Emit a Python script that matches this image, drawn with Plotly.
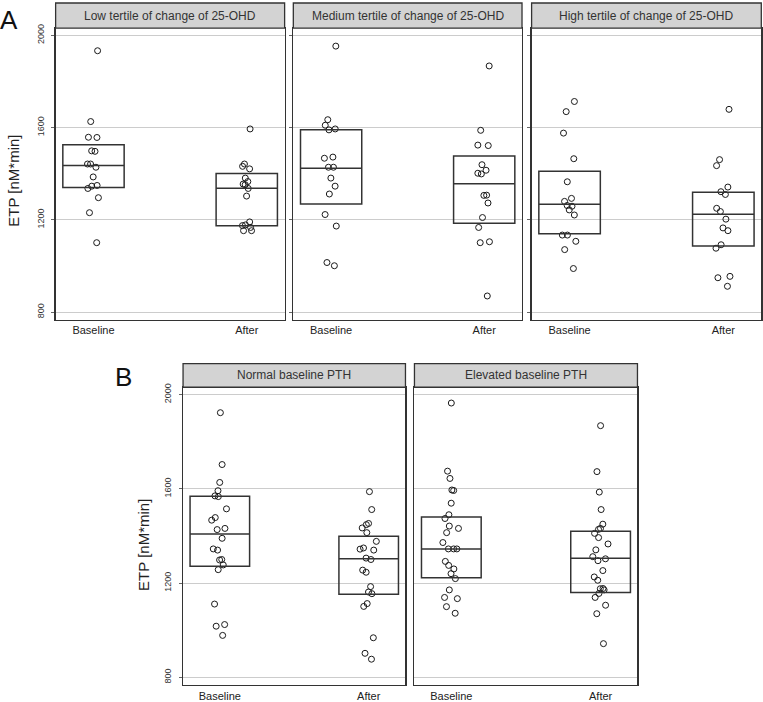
import plotly.graph_objects as go

# ---------------- data (ETP, nM*min) ----------------
categories = ["Baseline", "After"]
tick_values_y = [800, 1200, 1600, 2000]

facet_titles_a = ["Low tertile of change of 25-OHD",
                  "Medium tertile of change of 25-OHD",
                  "High tertile of change of 25-OHD"]
facet_titles_b = ["Normal baseline PTH", "Elevated baseline PTH"]

low_baseline = [1933, 1626, 1558, 1557, 1499, 1497, 1442, 1442, 1428, 1386, 1349, 1346, 1336, 1296, 1231, 1101]
low_after = [1594, 1442, 1432, 1421, 1381, 1366, 1355, 1352, 1336, 1303, 1191, 1178, 1175, 1167, 1153, 1153]
med_baseline = [1953, 1634, 1610, 1594, 1590, 1472, 1467, 1428, 1428, 1381, 1346, 1312, 1223, 1173, 1015, 1001]
med_after = [1867, 1588, 1524, 1522, 1439, 1415, 1402, 1399, 1307, 1306, 1273, 1210, 1167, 1105, 1101, 870]
high_baseline = [1713, 1669, 1576, 1465, 1365, 1293, 1280, 1262, 1259, 1243, 1221, 1134, 1134, 1107, 1071, 989]
high_after = [1679, 1461, 1435, 1342, 1322, 1310, 1250, 1236, 1203, 1165, 1153, 1092, 1077, 955, 949, 912]
normal_baseline = [1923, 1703, 1627, 1592, 1570, 1567, 1515, 1478, 1467, 1432, 1427, 1390, 1345, 1340,
                   1300, 1298, 1277, 1257, 1111, 1024, 1017, 978]
normal_after = [1588, 1512, 1453, 1448, 1434, 1414, 1377, 1349, 1344, 1340, 1306, 1300, 1255, 1246,
                1185, 1162, 1155, 1113, 1101, 968, 902, 877]
elevated_baseline = [1964, 1675, 1644, 1595, 1593, 1539, 1490, 1474, 1442, 1432, 1414, 1372, 1345, 1345,
                     1345, 1292, 1275, 1260, 1240, 1219, 1171, 1139, 1134, 1100, 1072]
elevated_after = [1868, 1673, 1586, 1512, 1450, 1432, 1428, 1411, 1393, 1366, 1341, 1312, 1303, 1295,
                  1253, 1226, 1212, 1177, 1176, 1171, 1156, 1139, 1106, 1070, 943]

# box statistics (lower edge, middle line, upper edge) per group
box_lower = [1340, 1174, 1269, 1185, 1140, 1087, 1271, 1153, 1223, 1160]
box_middle = [1436, 1337, 1424, 1356, 1268, 1224, 1408, 1303, 1345, 1305]
box_upper = [1525, 1401, 1590, 1477, 1411, 1320, 1568, 1399, 1480, 1420]

groups = [
    (low_baseline, low_after),
    (med_baseline, med_after),
    (high_baseline, high_after),
    (normal_baseline, normal_after),
    (elevated_baseline, elevated_after),
]

# ---------------- layout geometry (pixels of a 763 x 702 page) ----------------
W, H = 763, 702
FONT = "Liberation Sans, Arial, Helvetica, sans-serif"
INK = "#333333"

facet_x_px = [(55.7, 285.0), (293.7, 522.7), (532.3, 762.3), (183.3, 406.0), (415.0, 638.3)]
panel_y_px = {"A": (24.3, 318.0), "B": (386.0, 686.0)}
strip_y_px = {"A": (-1.0, 24.3), "B": (362.3, 386.0)}
facet_panel = ["A", "A", "A", "B", "B"]
facet_titles = facet_titles_a + facet_titles_b

def px_x(v):
    return v / W

def px_y(v):
    return 1 - v / H

fig = go.Figure()
layout = dict(
    width=W, height=H, autosize=False,
    margin=dict(l=0, r=0, t=0, b=0),
    paper_bgcolor="white", plot_bgcolor="white",
    showlegend=False, boxmode="overlay",
    font=dict(family=FONT, color=INK),
)
shapes, annotations = [], []

for i, (base, after) in enumerate(groups):
    n = i + 1
    xa = "x" if n == 1 else f"x{n}"
    ya = "y" if n == 1 else f"y{n}"
    panel = facet_panel[i]
    first_in_panel = i in (0, 3)

    # points (library jitter)
    for k, vals in enumerate((base, after)):
        fig.add_trace(go.Box(
            y=vals, x0=k, width=0.4, xaxis=xa, yaxis=ya,
            boxpoints="all", jitter=0.3, pointpos=0,
            fillcolor="rgba(0,0,0,0)", line=dict(width=0, color="rgba(0,0,0,0)"),
            marker=dict(symbol="circle-open", size=6, color="#1a1a1a", line=dict(width=1)),
            hoverinfo="skip", showlegend=False,
        ))
    # boxes
    gi = 2 * i
    fig.add_trace(go.Box(
        x=[0, 1],
        q1=[box_lower[gi], box_lower[gi + 1]],
        median=[box_middle[gi], box_middle[gi + 1]],
        q3=[box_upper[gi], box_upper[gi + 1]],
        lowerfence=[box_lower[gi], box_lower[gi + 1]],
        upperfence=[box_upper[gi], box_upper[gi + 1]],
        width=0.4, whiskerwidth=0, boxpoints=False,
        fillcolor="rgba(0,0,0,0)", line=dict(color=INK, width=1.5),
        xaxis=xa, yaxis=ya, hoverinfo="skip", showlegend=False,
    ))

    x0p, x1p = facet_x_px[i]
    y0p, y1p = panel_y_px[panel]
    key = "" if n == 1 else str(n)
    layout["xaxis" + key] = dict(
        domain=[px_x(x0p), px_x(x1p)], anchor=ya, range=[-0.247, 1.247],
        tickvals=[0, 1], ticktext=categories, ticks="", ticklen=0, showgrid=False, zeroline=False,
        showline=True, mirror=True, linecolor=INK, linewidth=1.3,
        tickfont=dict(size=11, color="#222222"), fixedrange=True,
    )
    layout["yaxis" + key] = dict(
        domain=[px_y(y1p), px_y(y0p)], anchor=xa, range=[767, 2031],
        tickvals=tick_values_y, showticklabels=first_in_panel,
        ticks="outside" if (first_in_panel or panel == "A") else "", ticklen=3, tickcolor="#666666",
        tickangle=-90, tickfont=dict(size=9, color=INK), ticklabelstandoff=4,
        showgrid=True, gridcolor="#cccccc", gridwidth=1, zeroline=False,
        showline=True, mirror=True, linecolor=INK, linewidth=1.3, fixedrange=True,
    )

    # facet strip
    sy0, sy1 = strip_y_px[panel]
    shapes.append(dict(type="rect", xref="paper", yref="paper",
                       x0=px_x(x0p), x1=px_x(x1p), y0=px_y(sy1), y1=px_y(sy0),
                       fillcolor="#d3d3d3", line=dict(color=INK, width=1.3), layer="above"))
    annotations.append(dict(text=facet_titles[i], xref="paper", yref="paper",
                            x=px_x((x0p + x1p) / 2), y=px_y((max(sy0, 0) + sy1) / 2),
                            xanchor="center", yanchor="middle", showarrow=False,
                            font=dict(size=12, color=INK)))

# y axis titles
for xp, yp in [(14, 178), (143, 545)]:
    annotations.append(dict(text="ETP [nM*min]", xref="paper", yref="paper",
                            x=px_x(xp), y=px_y(yp), xanchor="center", yanchor="middle",
                            textangle=-90, showarrow=False, font=dict(size=15, color="#222222")))
# panel letters
for letter, xp, yp in [("A", 9, 16), ("B", 124, 376)]:
    annotations.append(dict(text=letter, xref="paper", yref="paper",
                            x=px_x(xp), y=px_y(yp), xanchor="center", yanchor="middle",
                            showarrow=False, font=dict(size=26, color="#111111")))

layout["shapes"] = shapes
layout["annotations"] = annotations
fig.update_layout(**layout)
fig.write_html("out.html",
               config={"displayModeBar": False, "staticPlot": True},
               post_script="document.body.style.margin='0';document.body.style.padding='0';")
